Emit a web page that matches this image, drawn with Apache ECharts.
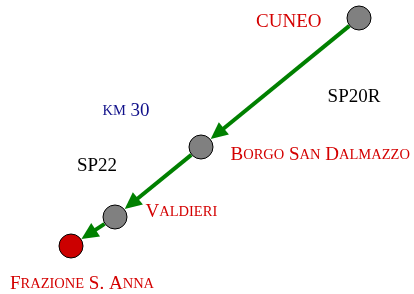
<!DOCTYPE html>
<html>
<head>
<meta charset="utf-8">
<script src="https://cdn.jsdelivr.net/npm/echarts@6/dist/echarts.min.js"></script>
<style>html,body{margin:0;padding:0;background:#fff}#c{width:414px;height:294px}</style>
</head>
<body>
<div id="c"></div>
<script>
// Places along the route (schematic coordinates)
const places = ['CUNEO', 'Borgo San Dalmazzo', 'Valdieri', 'Frazione S. Anna'];
const placeX = [359, 201, 115, 71];
const placeY = [18, 147, 217, 246];
const routeFrom = [0, 1, 2];
const routeTo = [1, 2, 3];
// Road annotations
const notes = ['SP20R', 'SP22', 'km 30'];
const noteX = [354, 97, 126];
const noteY = [97, 166, 111];

const RED = '#d40000', BLUE = '#10108a', GREEN = '#008000';
const FONT = '"Liberation Serif", "DejaVu Serif", serif';
const NODE_SIZE = 24;

function smallCaps(t) {
  let out = '', cur = null, buf = '';
  const flush = () => { if (buf) { out += '{' + cur + '|' + buf + '}'; buf = ''; } };
  for (const ch of t) {
    const isLower = ch !== ch.toUpperCase();
    const k = isLower ? 's' : 'b';
    if (k !== cur) { flush(); cur = k; }
    buf += ch.toUpperCase();
  }
  flush();
  return out;
}
function rich(color) {
  return {
    b: { fontSize: 19, fontFamily: FONT, color: color, opacity: 1 },
    s: { fontSize: 14.5, fontFamily: FONT, color: color, opacity: 1 }
  };
}

const labelPlacement = [
  { position: 'left', distance: 25, offset: [0, 4] },
  { position: 'right', distance: 17, offset: [0, 8] },
  { position: 'right', distance: 18, offset: [0, -5] },
  { position: 'bottom', distance: 16, offset: [11, 0] }
];

const nodes = places.map((p, i) => ({
  name: p,
  value: [placeX[i], placeY[i]],
  itemStyle: { color: i === places.length - 1 ? '#cc0000' : '#808080', borderColor: '#000', borderWidth: 1, opacity: 1 },
  label: Object.assign({ show: true, formatter: smallCaps(p), rich: rich(RED) }, labelPlacement[i])
}));
const linkData = routeFrom.map((f, i) => [placeX[f], placeY[f], placeX[routeTo[i]], placeY[routeTo[i]]]);

function renderArrow(params, api) {
  const a = api.coord([api.value(0), api.value(1)]);
  const b = api.coord([api.value(2), api.value(3)]);
  const dx = b[0] - a[0], dy = b[1] - a[1];
  const len = Math.sqrt(dx * dx + dy * dy);
  const ux = dx / len, uy = dy / len;
  const nx = -uy, ny = ux;
  const r = NODE_SIZE / 2 + 0.5;
  const headL = 17, headW = 8;
  const start = [a[0] + ux * r, a[1] + uy * r];
  const tip = [b[0] - ux * r, b[1] - uy * r];
  const base = [tip[0] - ux * headL, tip[1] - uy * headL];
  const lineEnd = [base[0] + ux * 3, base[1] + uy * 3];
  return {
    type: 'group',
    children: [
      {
        type: 'line',
        shape: { x1: start[0], y1: start[1], x2: lineEnd[0], y2: lineEnd[1] },
        style: { stroke: GREEN, lineWidth: 4 }
      },
      {
        type: 'polygon',
        shape: { points: [tip, [base[0] + nx * headW, base[1] + ny * headW], [base[0] - nx * headW, base[1] - ny * headW]] },
        style: { fill: GREEN }
      }
    ]
  };
}

const chart = echarts.init(document.getElementById('c'), null, { renderer: 'canvas' });
chart.setOption({
  animation: false,
  grid: { left: 0, right: 0, top: 0, bottom: 0 },
  xAxis: { type: 'value', min: 0, max: 414, show: false },
  yAxis: { type: 'value', min: 0, max: 294, inverse: true, show: false },
  series: [
    {
      type: 'custom',
      renderItem: renderArrow,
      data: linkData,
      encode: { x: [0, 2], y: [1, 3] },
      silent: true,
      z: 2
    },
    {
      type: 'scatter',
      symbol: 'circle',
      symbolSize: NODE_SIZE,
      data: nodes,
      emphasis: { disabled: true },
      silent: true,
      z: 3
    },
    {
      type: 'scatter',
      symbolSize: 0,
      itemStyle: { opacity: 1 },
      data: notes.map((n, i) => ({
        value: [noteX[i], noteY[i]],
        label: {
          show: true, position: 'inside', opacity: 1,
          formatter: smallCaps(n),
          rich: rich(i === 2 ? BLUE : '#000')
        }
      })),
      emphasis: { disabled: true },
      silent: true,
      z: 2
    }
  ]
});
</script>
</body>
</html>
